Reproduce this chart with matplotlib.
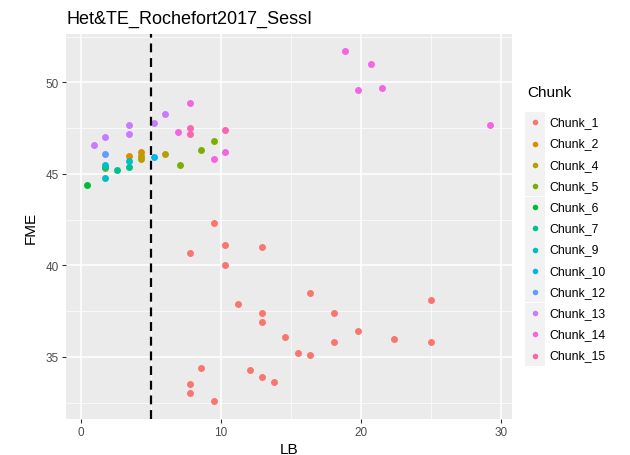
import matplotlib
matplotlib.use("Agg")
import matplotlib.pyplot as plt
from matplotlib.patches import Rectangle
from matplotlib.lines import Line2D

plt.rcParams['font.family'] = ['Liberation Sans', 'DejaVu Sans']

# Dados (LB, FME) por chunk
chunks = ['Chunk_1', 'Chunk_2', 'Chunk_4', 'Chunk_5', 'Chunk_6', 'Chunk_7',
          'Chunk_9', 'Chunk_10', 'Chunk_12', 'Chunk_13', 'Chunk_14', 'Chunk_15']
cores = ['#F8766D', '#DE8C00', '#B79F00', '#7CAE00', '#00BA38', '#00C08B',
         '#00BFC4', '#00B4F0', '#619CFF', '#C77CFF', '#F564E3', '#FF64B0']

lb_1 = [9.5, 7.8, 10.3, 12.9, 10.3, 11.2, 16.4, 25.0, 12.9, 12.9, 18.1, 19.8, 14.6,
        22.4, 18.1, 25.0, 15.5, 16.4, 8.6, 12.1, 12.9, 13.8, 7.8, 7.8, 9.5]
fme_1 = [42.3, 40.7, 41.1, 41.0, 40.0, 37.9, 38.5, 38.1, 37.4, 36.9, 37.4, 36.4, 36.1,
         36.0, 35.8, 35.8, 35.2, 35.1, 34.4, 34.3, 33.9, 33.6, 33.5, 33.0, 32.6]
lb_2 = [3.4, 4.3]
fme_2 = [46.0, 46.2]
lb_4 = [4.3, 4.3, 6.0, 1.7]
fme_4 = [45.8, 46.0, 46.1, 45.3]
lb_5 = [7.1, 8.6, 9.5]
fme_5 = [45.5, 46.3, 46.8]
lb_6 = [0.4]
fme_6 = [44.4]
lb_7 = [2.6, 3.4, 1.7]
fme_7 = [45.2, 45.4, 45.4]
lb_9 = [1.7, 1.7, 3.4]
fme_9 = [45.5, 44.8, 45.7]
lb_10 = [5.2]
fme_10 = [45.9]
lb_12 = [1.7]
fme_12 = [46.1]
lb_13 = [0.9, 1.7, 3.4, 3.4, 5.2, 6.0]
fme_13 = [46.6, 47.0, 47.7, 47.2, 47.8, 48.3]
lb_14 = [6.9, 7.8, 9.5, 10.3, 18.9, 20.7, 19.8, 21.5, 29.2]
fme_14 = [47.3, 48.9, 45.8, 46.2, 51.7, 51.0, 49.6, 49.7, 47.7]
lb_15 = [7.8, 7.8, 10.3]
fme_15 = [47.5, 47.2, 47.4]

LB = [lb_1, lb_2, lb_4, lb_5, lb_6, lb_7, lb_9, lb_10, lb_12, lb_13, lb_14, lb_15]
FME = [fme_1, fme_2, fme_4, fme_5, fme_6, fme_7, fme_9, fme_10, fme_12, fme_13, fme_14, fme_15]

limiar = 5  # linha tracejada

fig = plt.figure(figsize=(6.3, 4.56), dpi=100)
ax = fig.add_axes([66/630, 1 - 420/456, 446/630, 385/456])
ax.set_facecolor('#EBEBEB')

for x, y, c in zip(LB, FME, cores):
    ax.scatter(x, y, s=25, color=c, linewidths=0, zorder=3)

ax.axvline(limiar, color='black', linestyle=(0, (4, 2.6)), linewidth=1.6, zorder=4)

ax.set_xlim(-1.07, 30.8)
ax.set_ylim(31.6, 52.65)
ax.set_xticks([0, 10, 20, 30])
ax.set_yticks([35, 40, 45, 50])
ax.set_xticks([5, 15, 25], minor=True)
ax.set_yticks([32.5, 37.5, 42.5, 47.5, 52.5], minor=True)
ax.grid(True, which='major', color='white', linewidth=1.1, zorder=0)
ax.grid(True, which='minor', color='white', linewidth=0.5, zorder=0)
ax.set_axisbelow(True)
for sp in ax.spines.values():
    sp.set_visible(False)
ax.tick_params(which='major', length=3, color='#333333', labelsize=8.5,
               labelcolor='#4D4D4D', pad=2)
ax.tick_params(which='minor', length=0)

ax.set_xlabel('LB', fontsize=11, labelpad=3)
ax.set_ylabel('FME', fontsize=11, labelpad=6)
ax.set_title('Het&TE_Rochefort2017_SessI', fontsize=13, loc='left', pad=8)

# Legenda manual (estilo ggplot)
fig.text(527/630, 1 - 93/456, 'Chunk', fontsize=11, va='center', ha='left')
for i, (nome, c) in enumerate(zip(chunks, cores)):
    yc = 123.3 + i*21.2
    fig.add_artist(Rectangle((525/630, 1 - (yc + 10.5)/456), 20/630, 21/456,
                             transform=fig.transFigure, facecolor='#F2F2F2',
                             edgecolor='none'))
    fig.add_artist(Line2D([535/630], [1 - yc/456], marker='o', markersize=4.0,
                          color=c, markeredgewidth=0, transform=fig.transFigure))
    fig.text(549/630, 1 - yc/456, nome, fontsize=8.8, va='center', ha='left')

fig.savefig('out.png', dpi=100)
